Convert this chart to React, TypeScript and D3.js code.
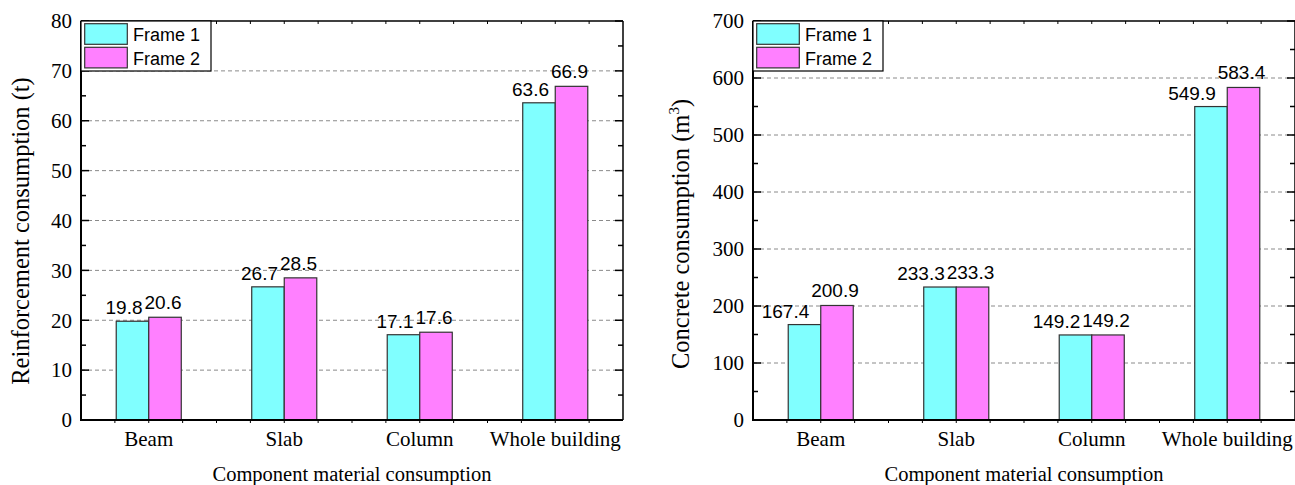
import React from "react";
import * as d3 from "d3";

// Component categories and series
const categories = ["Beam", "Slab", "Column", "Whole building"];
const seriesNames = ["Frame 1", "Frame 2"];
const seriesColors = ["#80FFFF", "#FF80FF"];

// Reinforcement consumption (t)
const rebarFrame1 = [19.8, 26.7, 17.1, 63.6];
const rebarFrame2 = [20.6, 28.5, 17.6, 66.9];

// Concrete consumption (m3)
const concreteFrame1 = [167.4, 233.3, 149.2, 549.9];
const concreteFrame2 = [200.9, 233.3, 149.2, 583.4];

const rebarTicks = [0, 10, 20, 30, 40, 50, 60, 70, 80];
const concreteTicks = [0, 100, 200, 300, 400, 500, 600, 700];

const SERIF = "'Liberation Serif', 'Times New Roman', serif";
const SANS = "'Liberation Sans', Arial, sans-serif";
const LABEL_SIZE = 19;

// approximate rendered width of a numeric label in Liberation Sans
const labelWidth = (s: string) =>
  s.split("").reduce((w, ch) => w + (ch === "." ? 0.278 : 0.556), 0) * LABEL_SIZE;

type PanelProps = {
  left: number;
  right: number;
  top: number;
  bottom: number;
  max: number;
  ticks: number[];
  series: number[][];
  yTitle: React.ReactNode;
  yTitleX: number;
  yTitleY: number;
};

function Panel({ left, right, top, bottom, max, ticks, series, yTitle, yTitleX, yTitleY }: PanelProps) {
  const x = d3.scaleBand<string>().domain(categories).range([left, right]).padding(0);
  const bw = x.bandwidth();
  const xs = d3
    .scaleBand<string>()
    .domain(seriesNames)
    .range([bw * 0.26, bw * 0.74])
    .padding(0);
  const y = d3.scaleLinear().domain([0, max]).range([bottom, top]);
  const step = ticks[1] - ticks[0];
  const minor = ticks.slice(0, -1).map((t) => t + step / 2);
  const quarterTicks = d3.range(1, categories.length * 4).map((i) => left + (bw / 4) * i);

  return (
    <g>
      {/* dashed gridlines */}
      {ticks
        .filter((t) => t > 0 && t < max)
        .map((t) => (
          <line
            key={"g" + t}
            x1={left}
            x2={right}
            y1={y(t)}
            y2={y(t)}
            stroke="#8a8a8a"
            strokeWidth={1}
            strokeDasharray="4,3"
          />
        ))}

      {/* bars with value labels */}
      {categories.map((c, i) => {
        const v1 = series[0][i];
        const v2 = series[1][i];
        const x1 = (x(c) as number) + (xs(seriesNames[0]) as number);
        const x2 = (x(c) as number) + (xs(seriesNames[1]) as number);
        const w = xs.bandwidth();
        const t1 = v1.toFixed(1);
        const t2 = v2.toFixed(1);
        // second label sits over its bar; the first one is pushed left of it
        const c2 = x2 + w / 2 - 2;
        const start2 = c2 - labelWidth(t2) / 2;
        const end1 = Math.min(x1 + w / 2 + labelWidth(t1) / 2, start2 - 2);
        return (
          <g key={c}>
            <rect
              x={x1}
              y={y(v1)}
              width={w}
              height={y(0) - y(v1)}
              fill={seriesColors[0]}
              stroke="#333"
              strokeWidth={1.2}
            />
            <rect
              x={x2}
              y={y(v2)}
              width={w}
              height={y(0) - y(v2)}
              fill={seriesColors[1]}
              stroke="#333"
              strokeWidth={1.2}
            />
            <text
              x={end1}
              y={y(v1) - 7}
              textAnchor="end"
              fontFamily={SANS}
              fontSize={LABEL_SIZE}
              fill="#000"
            >
              {t1}
            </text>
            <text
              x={c2}
              y={y(v2) - 8}
              textAnchor="middle"
              fontFamily={SANS}
              fontSize={LABEL_SIZE}
              fill="#000"
            >
              {t2}
            </text>
          </g>
        );
      })}

      {/* frame */}
      <line x1={left} x2={right} y1={top} y2={top} stroke="#000" strokeWidth={1.5} />
      <line x1={right} x2={right} y1={top} y2={bottom} stroke="#000" strokeWidth={1.5} />
      <line x1={left} x2={left} y1={top} y2={bottom + 1} stroke="#000" strokeWidth={2} />
      <line x1={left - 1} x2={right} y1={bottom} y2={bottom} stroke="#000" strokeWidth={2.2} />

      {/* y ticks, inward on both sides */}
      {ticks.map((t) => (
        <g key={"t" + t}>
          <line x1={left} x2={left + 8} y1={y(t)} y2={y(t)} stroke="#000" strokeWidth={1.5} />
          <line x1={right} x2={right - 8} y1={y(t)} y2={y(t)} stroke="#000" strokeWidth={1.5} />
          <text
            x={left - 9}
            y={y(t)}
            dy="0.35em"
            textAnchor="end"
            fontFamily={SERIF}
            fontSize={21}
            fill="#000"
          >
            {t}
          </text>
        </g>
      ))}
      {minor.map((t) => (
        <g key={"m" + t}>
          <line x1={left} x2={left + 5} y1={y(t)} y2={y(t)} stroke="#000" strokeWidth={1.5} />
          <line x1={right} x2={right - 5} y1={y(t)} y2={y(t)} stroke="#000" strokeWidth={1.5} />
        </g>
      ))}

      {/* x ticks along top and bottom */}
      {quarterTicks.map((tx, i) => (
        <g key={"q" + i}>
          <line x1={tx} x2={tx} y1={top} y2={top + 3} stroke="#000" strokeWidth={1} />
          <line x1={tx} x2={tx} y1={bottom} y2={bottom + 3} stroke="#000" strokeWidth={1} />
        </g>
      ))}

      {/* category labels */}
      {categories.map((c) => (
        <text
          key={"c" + c}
          x={(x(c) as number) + bw / 2}
          y={446}
          textAnchor="middle"
          fontFamily={SERIF}
          fontSize={21}
          fill="#000"
        >
          {c}
        </text>
      ))}

      {/* axis titles */}
      <text
        x={(left + right) / 2}
        y={481}
        textAnchor="middle"
        fontFamily={SERIF}
        fontSize={20.5}
        fill="#000"
      >
        Component material consumption
      </text>
      <text
        transform={`translate(${yTitleX},${yTitleY}) rotate(-90)`}
        textAnchor="middle"
        fontFamily={SERIF}
        fontSize={24.5}
        fill="#000"
      >
        {yTitle}
      </text>

      {/* legend */}
      <rect x={left} y={top} width={130} height={50} fill="#fff" stroke="#000" strokeWidth={1.2} />
      {seriesNames.map((s, j) => (
        <g key={"lg" + s}>
          <rect
            x={left + 3.7}
            y={top + 2.7 + j * 23.6}
            width={42.6}
            height={20.6}
            fill={seriesColors[j]}
            stroke="#333"
            strokeWidth={1.2}
          />
          <text x={left + 52} y={top + 20 + j * 24} fontFamily={SANS} fontSize={18} fill="#000">
            {s}
          </text>
        </g>
      ))}
    </g>
  );
}

export default function App() {
  return (
    <svg
      width={1295}
      height={485}
      style={{ position: "absolute", left: 0, top: 0, background: "#fff" }}
    >
      <rect width={1295} height={485} fill="#fff" />
      <Panel
        left={81}
        right={623}
        top={21}
        bottom={420}
        max={80}
        ticks={rebarTicks}
        series={[rebarFrame1, rebarFrame2]}
        yTitle="Reinforcement consumption (t)"
        yTitleX={29}
        yTitleY={231}
      />
      <Panel
        left={753}
        right={1295}
        top={21}
        bottom={420}
        max={700}
        ticks={concreteTicks}
        series={[concreteFrame1, concreteFrame2]}
        yTitle={
          <>
            Concrete consumption (m
            <tspan fontSize={15} dy={-10}>
              3
            </tspan>
            <tspan dy={10}>)</tspan>
          </>
        }
        yTitleX={689}
        yTitleY={234}
      />
    </svg>
  );
}
